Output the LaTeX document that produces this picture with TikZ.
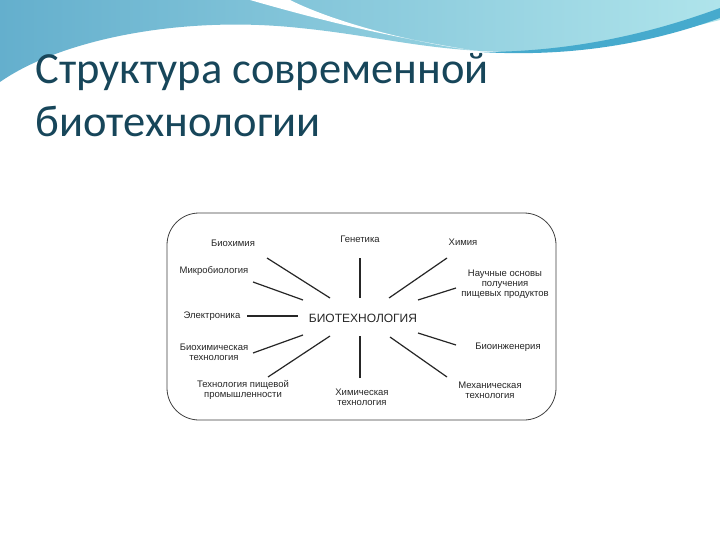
\documentclass[tikz,border=0pt]{standalone}
\usepackage{fontspec}
\setmainfont{Liberation Sans}
\newfontfamily\titlefont{Carlito}
\definecolor{waveL}{RGB}{100,175,205}
\definecolor{waveR}{RGB}{175,228,235}
\definecolor{stripe}{RGB}{70,170,205}
\definecolor{titlec}{RGB}{23,70,90}
\begin{document}
\begin{tikzpicture}[x=1pt,y=-1pt,
  lbl/.style={font=\fontsize{9.5}{10}\selectfont, align=center, text=black!85},
  ray/.style={draw=black!85, line width=1.2pt}]
\useasboundingbox (0,0) rectangle (720,540);
\fill[white] (0,0) rectangle (720,540);
% background waves
\shade[left color=waveL, right color=waveR]
  (0,0) -- (0,82) .. controls (60,40) and (180,15) .. (300,28) .. controls (380,36) and (430,52) .. (520,52) .. controls (600,50) and (680,30) .. (720,20) -- (720,0) -- cycle;
\fill[white] (250,0) .. controls (320,20) and (380,35) .. (470,50) .. controls (400,40) and (330,20) .. (290,0) -- cycle;
\fill[stripe] (480,52) .. controls (580,52) and (660,30) .. (720,8) -- (720,18) .. controls (660,40) and (580,58) .. (480,52) -- cycle;
\node[anchor=base west, font=\titlefont\fontsize{44.5}{44.5}\selectfont, text=titlec] (t1) at (32,84) {Структура современной};
\node[anchor=base west, font=\titlefont\fontsize{44.5}{44.5}\selectfont, text=titlec] (t2) at (32,137) {биотехнологии};
% diagram
\draw[black!75, line width=0.8pt, rounded corners=32] (167,213) rectangle (556,420);
\node[font=\fontsize{12}{12}\selectfont, text=black!85] (c) at (363,318) {БИОТЕХНОЛОГИЯ};
\node[lbl] (a1) at (233,243) {Биохимия};
\node[lbl] (a2) at (360,239) {Генетика};
\node[lbl] (a3) at (463,242) {Химия};
\node[lbl] (a4) at (505,284) {Научные основы\\получения\\пищевых продуктов};
\node[lbl] (a5) at (214,271) {Микробиология};
\node[lbl] (a6) at (212,316) {Электроника};
\node[lbl] (a7) at (214,352) {Биохимическая\\технология};
\node[lbl] (a8) at (243,390) {Технология пищевой\\промышленности};
\node[lbl] (a9) at (362,397) {Химическая\\технология};
\node[lbl] (a10) at (490,390) {Механическая\\технология};
\node[lbl] (a11) at (508,347) {Биоинженерия};
\coordinate (p1a) at (267,258); \coordinate (p1b) at (330,298);
\coordinate (p2a) at (360,258); \coordinate (p2b) at (360,298);
\coordinate (p3a) at (447,258); \coordinate (p3b) at (389,298);
\coordinate (p4a) at (456,288); \coordinate (p4b) at (418,300);
\coordinate (p5a) at (253,282); \coordinate (p5b) at (303,300);
\coordinate (p6a) at (247,316); \coordinate (p6b) at (298,316);
\coordinate (p7a) at (253,353); \coordinate (p7b) at (303,335);
\coordinate (p8a) at (268,377); \coordinate (p8b) at (330,336);
\coordinate (p9a) at (360,378); \coordinate (p9b) at (360,336);
\coordinate (p10a) at (447,377); \coordinate (p10b) at (390,337);
\coordinate (p11a) at (456,345); \coordinate (p11b) at (418,333);
\foreach \i in {1,...,11} {\draw[ray] (p\i a) -- (p\i b);}
\end{tikzpicture}
\end{document}
